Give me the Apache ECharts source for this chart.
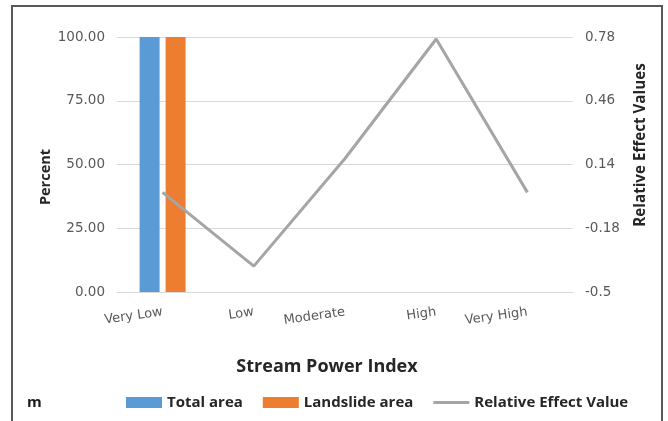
<!DOCTYPE html>
<html>
<head>
<meta charset="utf-8">
<script src="https://cdn.jsdelivr.net/npm/echarts@6/dist/echarts.min.js"></script>
<style>
  html, body { margin: 0; padding: 0; background: #fff; }
  #chart { width: 668px; height: 421px; }
</style>
</head>
<body>
<div id="chart"></div>
<script>
// Stream Power Index classes
const categories = ['Very Low', 'Low', 'Moderate', 'High', 'Very High'];
// Percent of total area and of landslide area per class
const totalArea = [100, null, null, null, null];
const landslideArea = [100, null, null, null, null];
// Relative effect value per class
const relativeEffect = [0.00, -0.37, 0.17, 0.77, 0.00];
// Right-axis tick values
const rightTicks = [-0.5, -0.18, 0.14, 0.46, 0.78];

const labelFont = 'DejaVu Sans';
const boldFont = 'Open Sans';

const chart = echarts.init(document.getElementById('chart'), null, { renderer: 'canvas' });

chart.setOption({
  animation: false,
  backgroundColor: '#ffffff',
  grid: { left: 117, right: 95, top: 37, bottom: 129, containLabel: false },
  xAxis: {
    type: 'category',
    data: categories,
    axisLine: { show: true, lineStyle: { color: '#D9D9D9', width: 1 } },
    axisTick: { show: false },
    axisLabel: {
      rotate: 8,
      margin: 20,
      color: '#595959',
      fontFamily: labelFont,
      fontSize: 13
    }
  },
  yAxis: [
    {
      type: 'value',
      min: 0,
      max: 100,
      interval: 25,
      axisLine: { show: false },
      axisTick: { show: false },
      splitLine: { lineStyle: { color: '#D9D9D9', width: 1 } },
      axisLabel: {
        margin: 12,
        color: '#595959',
        fontFamily: labelFont,
        fontSize: 13.5,
        formatter: v => v.toFixed(2)
      }
    },
    {
      type: 'value',
      min: rightTicks[0],
      max: rightTicks[rightTicks.length - 1],
      interval: 0.32,
      axisLine: { show: false },
      axisTick: { show: false },
      splitLine: { show: false },
      axisLabel: {
        margin: 12,
        color: '#595959',
        fontFamily: labelFont,
        fontSize: 13.5,
        formatter: v => String(parseFloat(v.toFixed(2)))
      }
    }
  ],
  legend: {
    left: 121,
    top: 390,
    itemGap: 20,
    itemWidth: 36,
    itemHeight: 11,
    textStyle: { fontFamily: boldFont, fontWeight: 'bold', fontSize: 15, color: '#262626' },
    data: [
      { name: 'Total area', icon: 'rect' },
      { name: 'Landslide area', icon: 'rect' },
      { name: 'Relative Effect Value', icon: 'path://M0,0 L36,0 L36,3 L0,3 Z' }
    ]
  },
  series: [
    {
      name: 'Total area',
      type: 'bar',
      data: totalArea,
      barWidth: 20,
      barGap: '30%',
      itemStyle: { color: '#5B9BD5' }
    },
    {
      name: 'Landslide area',
      type: 'bar',
      data: landslideArea,
      barWidth: 20,
      barGap: '30%',
      itemStyle: { color: '#ED7D31' }
    },
    {
      name: 'Relative Effect Value',
      type: 'line',
      yAxisIndex: 1,
      data: relativeEffect,
      symbol: 'none',
      lineStyle: { color: '#A5A5A5', width: 3 },
      itemStyle: { color: '#A5A5A5' }
    }
  ],
  graphic: [
    // chart frame
    {
      type: 'polyline',
      shape: { points: [[12, 425], [12, 6], [662, 6], [662, 425]] },
      style: { stroke: '#595959', lineWidth: 2, fill: null },
      silent: true
    },
    {
      type: 'text',
      x: 46, y: 177,
      rotation: Math.PI / 2,
      style: {
        text: 'Percent', fontFamily: boldFont, fontWeight: 'bold', fontSize: 14.5,
        fill: '#262626', textAlign: 'center', textVerticalAlign: 'middle'
      }
    },
    {
      type: 'text',
      x: 641, y: 145,
      rotation: Math.PI / 2,
      style: {
        text: 'Relative Effect Values', fontFamily: boldFont, fontWeight: 'bold', fontSize: 15.2,
        fill: '#262626', textAlign: 'center', textVerticalAlign: 'middle'
      }
    },
    {
      type: 'text',
      x: 327, y: 367,
      style: {
        text: 'Stream Power Index', fontFamily: boldFont, fontWeight: 'bold', fontSize: 18,
        fill: '#262626', textAlign: 'center', textVerticalAlign: 'middle'
      }
    },
    {
      type: 'text',
      x: 27, y: 403,
      style: {
        text: 'm', fontFamily: boldFont, fontWeight: 'bold', fontSize: 15,
        fill: '#1a1a1a', textAlign: 'left', textVerticalAlign: 'middle'
      }
    }
  ]
});
</script>
</body>
</html>
